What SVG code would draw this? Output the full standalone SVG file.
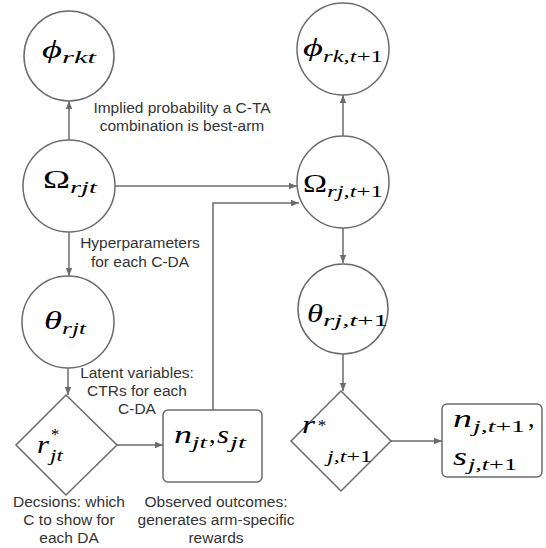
<svg xmlns="http://www.w3.org/2000/svg" width="546" height="548" viewBox="0 0 546 548">
<defs>
<marker id="ah" viewBox="0 0 10 10" refX="10" refY="5" markerWidth="8" markerHeight="8" markerUnits="userSpaceOnUse" orient="auto">
<path d="M0,1 L10,5 L0,9 z" fill="#6b6b6b"/>
</marker>
<style>
.n{fill:#fff;stroke:#6b6b6b;stroke-width:1.5}
.c{fill:none;stroke:#6b6b6b;stroke-width:1.5}
.m{font-family:"Liberation Serif","DejaVu Serif",serif;font-style:italic;font-size:26px;fill:#000}
.u{font-style:normal}
.s{font-family:"Liberation Serif","DejaVu Serif",serif;font-style:italic;font-size:17px;fill:#000}
.t{font-family:"Liberation Sans",Arial,sans-serif;font-size:15.5px;fill:#333;text-anchor:middle}
</style>
</defs>
<rect width="546" height="548" fill="#fff"/>
<g id="connectors">
<path class="c" d="M69,140 V101" marker-end="url(#ah)"/>
<path class="c" d="M115,186 H297" marker-end="url(#ah)"/>
<path class="c" d="M213,410 V203 H299" marker-end="url(#ah)"/>
<path class="c" d="M69,232 V276" marker-end="url(#ah)"/>
<path class="c" d="M68,368 V395" marker-end="url(#ah)"/>
<path class="c" d="M117,445 H163" marker-end="url(#ah)"/>
<path class="c" d="M343,136 V95" marker-end="url(#ah)"/>
<path class="c" d="M343,228 V263" marker-end="url(#ah)"/>
<path class="c" d="M343,354 V391" marker-end="url(#ah)"/>
<path class="c" d="M391,441 H442" marker-end="url(#ah)"/>
</g>
<g id="phi_rkt">
<circle class="n" cx="69" cy="56" r="45"/>
<text class="m" x="42" y="58" textLength="20" lengthAdjust="spacingAndGlyphs">ϕ</text>
<text class="s" x="62" y="63" textLength="34" lengthAdjust="spacingAndGlyphs">rkt</text>
</g>
<g id="Omega_rjt">
<circle class="n" cx="69" cy="186" r="46"/>
<text class="m u" x="43" y="188" textLength="27" lengthAdjust="spacingAndGlyphs">Ω</text>
<text class="s" x="70" y="193" textLength="27" lengthAdjust="spacingAndGlyphs">rjt</text>
</g>
<g id="theta_rjt">
<circle class="n" cx="68" cy="322" r="46"/>
<text class="m" x="44" y="329" textLength="18" lengthAdjust="spacingAndGlyphs">θ</text>
<text class="s" x="62" y="334" textLength="24" lengthAdjust="spacingAndGlyphs">rjt</text>
</g>
<g id="r_jt">
<path class="n" d="M66,395 L117,445 L66,495 L16,445 Z"/>
<text class="m" x="37" y="453" textLength="12" lengthAdjust="spacingAndGlyphs">r</text>
<text class="s u" x="50" y="440">*</text>
<text class="s" x="50" y="461" textLength="13" lengthAdjust="spacingAndGlyphs">jt</text>
</g>
<g id="ns_jt">
<rect class="n" x="163" y="410" width="99" height="72" rx="5"/>
<text class="m" x="174" y="443" textLength="18" lengthAdjust="spacingAndGlyphs">n</text>
<text class="s" x="192" y="448" textLength="15" lengthAdjust="spacingAndGlyphs">jt</text>
<text class="m u" x="209" y="443">,</text>
<text class="m" x="217" y="443" textLength="12" lengthAdjust="spacingAndGlyphs">s</text>
<text class="s" x="230" y="448" textLength="16" lengthAdjust="spacingAndGlyphs">jt</text>
</g>
<g id="phi_rk_t1">
<circle class="n" cx="343" cy="49" r="46"/>
<text class="m" x="303" y="56" textLength="20" lengthAdjust="spacingAndGlyphs">ϕ</text>
<text class="s" x="323" y="62" textLength="60" lengthAdjust="spacingAndGlyphs">rk,t<tspan font-style="normal">+1</tspan></text>
</g>
<g id="Omega_rj_t1">
<circle class="n" cx="343" cy="182" r="46"/>
<text class="m u" x="303" y="192" textLength="24" lengthAdjust="spacingAndGlyphs">Ω</text>
<text class="s" x="327" y="197" textLength="56" lengthAdjust="spacingAndGlyphs">rj,t<tspan font-style="normal">+1</tspan></text>
</g>
<g id="theta_rj_t1">
<circle class="n" cx="343" cy="309" r="45"/>
<text class="m" x="307" y="322" textLength="16" lengthAdjust="spacingAndGlyphs">θ</text>
<text class="s" x="323" y="326" textLength="65" lengthAdjust="spacingAndGlyphs">rj,t<tspan font-style="normal">+1</tspan></text>
</g>
<g id="r_j_t1">
<path class="n" d="M341,391 L391,441 L341,491 L291,441 Z"/>
<text class="m" x="302" y="433" textLength="13" lengthAdjust="spacingAndGlyphs">r</text>
<text class="s u" x="317" y="431">*</text>
<text class="s" x="327" y="462" textLength="45" lengthAdjust="spacingAndGlyphs">j,t<tspan font-style="normal">+1</tspan></text>
</g>
<g id="ns_j_t1">
<rect class="n" x="442" y="404" width="100" height="73" rx="5"/>
<text class="m" x="453" y="427" textLength="19" lengthAdjust="spacingAndGlyphs">n</text>
<text class="s" x="473" y="432" textLength="52" lengthAdjust="spacingAndGlyphs">j,t<tspan font-style="normal">+1</tspan></text>
<text class="m u" x="528" y="427">,</text>
<text class="m" x="453" y="465" textLength="14" lengthAdjust="spacingAndGlyphs">s</text>
<text class="s" x="468" y="470" textLength="49" lengthAdjust="spacingAndGlyphs">j,t<tspan font-style="normal">+1</tspan></text>
</g>
<g id="labels">
<text class="t" x="182" y="113">Implied probability a C-TA</text>
<text class="t" x="182" y="131">combination is best-arm</text>
<text class="t" x="140" y="248">Hyperparameters</text>
<text class="t" x="140" y="267">for each C-DA</text>
<text class="t" x="137" y="378">Latent variables:</text>
<text class="t" x="137" y="396">CTRs for each</text>
<text class="t" x="137" y="414">C-DA</text>
<text class="t" x="69" y="507">Decsions: which</text>
<text class="t" x="69" y="525">C to show for</text>
<text class="t" x="69" y="543">each DA</text>
<text class="t" x="216" y="507">Observed outcomes:</text>
<text class="t" x="216" y="525">generates arm-specific</text>
<text class="t" x="216" y="543">rewards</text>
</g>
</svg>
